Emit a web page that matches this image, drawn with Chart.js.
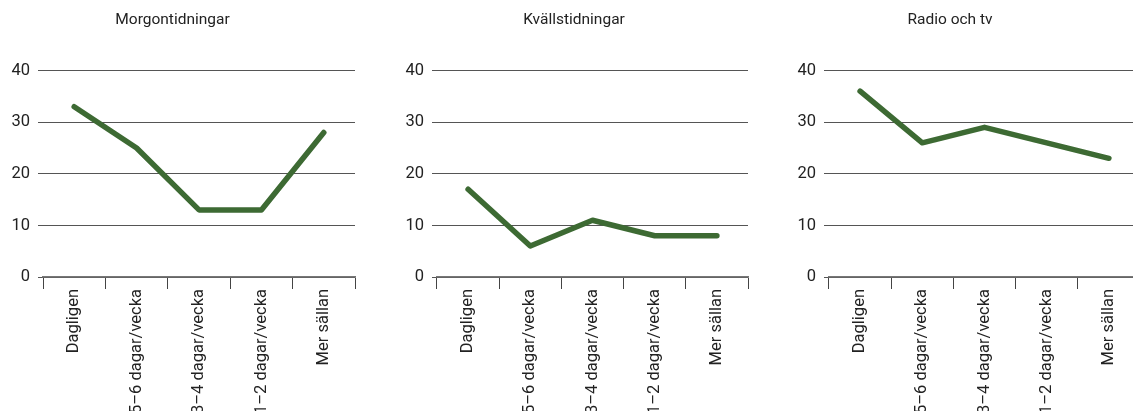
<!DOCTYPE html>
<html>
<head>
<meta charset="utf-8">
<script src="https://cdn.jsdelivr.net/npm/chart.js@4"></script>
<style>
  html, body { margin: 0; padding: 0; background: #fff; }
  body { width: 1133px; height: 411px; overflow: hidden; position: relative; }
  .painel { position: absolute; top: 0; height: 500px; }
</style>
</head>
<body>
<div class="painel" id="p1" style="left:-10px; width:367px;"><canvas id="morgon"></canvas></div>
<div class="painel" id="p2" style="left:400px; width:358px;"><canvas id="kvall"></canvas></div>
<div class="painel" id="p3" style="left:760px; width:430px;"><canvas id="radio"></canvas></div>

<script>
var kategorier = ["Dagligen", "5–6 dagar/vecka", "3–4 dagar/vecka", "1–2 dagar/vecka", "Mer sällan"];
var yTicks = [0, 10, 20, 30, 40];

var morgontidningar = [33, 25, 13, 13, 28];
var kvallstidningar = [17, 6, 11, 8, 8];
var radioTv = [36, 26, 29, 26, 23];

var titlar = ["Morgontidningar", "Kvällstidningar", "Radio och tv"];

var fonte = "Roboto, 'Liberation Sans', sans-serif";
var verde = "#3d6a33";

function plotarPainel(id, titulo, valores, larguraY, padDireita) {
  var ctx = document.getElementById(id).getContext("2d");

  return new Chart(ctx, {
    type: "line",
    data: {
      labels: kategorier,
      datasets: [{
        data: valores,
        borderColor: verde,
        backgroundColor: verde,
        borderWidth: 5.5,
        borderCapStyle: "round",
        borderJoinStyle: "round",
        pointRadius: 0,
        tension: 0,
        fill: false
      }]
    },
    options: {
      responsive: false,
      animation: false,
      layout: { padding: { top: 0, left: 0, right: padDireita, bottom: 0 } },
      plugins: {
        legend: { display: false },
        tooltip: { enabled: false },
        title: {
          display: true,
          text: titulo,
          color: "#222",
          font: { family: fonte, size: 15.5, weight: "normal", lineHeight: 1.2 },
          padding: { top: 11, bottom: 41 }
        }
      },
      scales: {
        x: {
          offset: true,
          afterFit: function (scale) { scale.height = 223; },
          grid: {
            offset: true,
            drawOnChartArea: false,
            drawTicks: true,
            tickLength: 12,
            color: "#444",
            lineWidth: 1
          },
          border: { display: true, color: "#777", width: 1.5 },
          ticks: {
            autoSkip: false,
            minRotation: 90,
            maxRotation: 90,
            padding: 0,
            color: "#222",
            font: { family: fonte, size: 16.5 }
          }
        },
        y: {
          min: 0,
          max: 40,
          afterFit: function (scale) { scale.width = larguraY; },
          afterBuildTicks: function (scale) {
            scale.ticks = yTicks.map(function (v) { return { value: v }; });
          },
          grid: {
            color: "#555",
            lineWidth: 1,
            drawTicks: true,
            tickLength: 5
          },
          border: { display: false },
          ticks: {
            padding: 8,
            color: "#222",
            font: { family: fonte, size: 16.5 }
          }
        }
      }
    }
  });
}

function ajustarCanvas(id, largura) {
  var c = document.getElementById(id);
  c.width = largura;
  c.height = 500;
  c.style.width = largura + "px";
  c.style.height = "500px";
}

ajustarCanvas("morgon", 367);
ajustarCanvas("kvall", 358);
ajustarCanvas("radio", 430);

plotarPainel("morgon", titlar[0], morgontidningar, 53, 2);
plotarPainel("kvall", titlar[1], kvallstidningar, 37, 10);
plotarPainel("radio", titlar[2], radioTv, 69, 50);
</script>
</body>
</html>
